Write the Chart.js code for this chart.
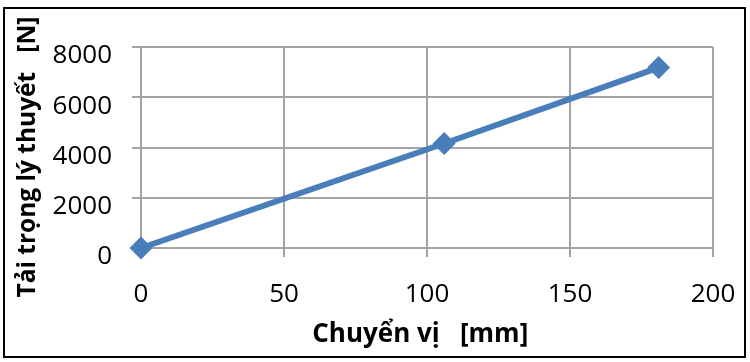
<!DOCTYPE html>
<html>
<head>
<meta charset="utf-8">
<script src="https://cdn.jsdelivr.net/npm/chart.js@4"></script>
<style>
    body { margin: 0; background: #fff; }
    #box { width: 750px; height: 362px; }
</style>
</head>
<body>
<div id="box"><canvas id="loadChart"></canvas></div>
<script>
// so lieu doc tu hinh
const displacement = [0, 106, 181];
const load = [0, 4160, 7180];
const xTicks = [0, 50, 100, 150, 200];
const yTicks = [0, 2000, 4000, 6000, 8000];

// khoang trang cuoi de dich tieu de giong hinh goc
const xTitle = "Chuyển vị   [mm]  ";
const yTitle = "Tải trọng lý thuyết   [N]   ";

const lineColor = "#4A7EBB";
const gridColor = "#a3a3a3";

const points = displacement.map((x, i) => ({ x, y: load[i] }));

// khung vien den quanh bieu do
const frame = {
    id: "frame",
    afterDraw(chart) {
        const c = chart.ctx;
        c.save();
        c.strokeStyle = "#000";
        c.lineWidth = 2;
        c.strokeRect(4, 8, 741, 349);
        c.restore();
    },
};

const ctx = document.getElementById("loadChart").getContext("2d");

new Chart(ctx, {
    type: "scatter",
    data: {
        datasets: [
            {
                data: points,
                showLine: true,
                clip: false,
                borderColor: lineColor,
                backgroundColor: lineColor,
                borderWidth: 6,
                pointStyle: "rectRot",
                pointRadius: 11.5,
                pointHoverRadius: 11.5,
                pointBorderWidth: 0,
            },
        ],
    },
    options: {
        responsive: true,
        maintainAspectRatio: false,
        animation: false,
        layout: {
            padding: { top: 47, right: 37, left: 0, bottom: 0 },
        },
        plugins: {
            legend: { display: false },
            tooltip: { enabled: false },
        },
        scales: {
            x: {
                type: "linear",
                min: 0,
                max: 200,
                afterBuildTicks: (axis) => {
                    axis.ticks = xTicks.map((v) => ({ value: v }));
                },
                afterFit: (axis) => {
                    axis.height = 114;
                    axis.paddingLeft = 0;
                    axis.paddingRight = 0;
                },
                grid: {
                    color: gridColor,
                    lineWidth: 2,
                    tickLength: 9,
                },
                border: { color: gridColor, width: 2 },
                ticks: {
                    color: "#000",
                    padding: 22,
                    maxRotation: 0,
                    font: { family: "Open Sans", size: 26 },
                    callback: (v) => String(v),
                },
                title: {
                    display: true,
                    text: xTitle,
                    color: "#000",
                    padding: { top: 0, bottom: 12 },
                    font: { family: "Open Sans", size: 26, weight: "bold" },
                },
            },
            y: {
                type: "linear",
                min: 0,
                max: 8000,
                afterBuildTicks: (axis) => {
                    axis.ticks = yTicks.map((v) => ({ value: v }));
                },
                afterFit: (axis) => {
                    axis.width = 141;
                    axis.paddingTop = 0;
                    axis.paddingBottom = 0;
                },
                grid: {
                    color: gridColor,
                    lineWidth: 2,
                    tickLength: 9,
                },
                border: { color: gridColor, width: 2 },
                ticks: {
                    color: "#000",
                    padding: 20,
                    labelOffset: 9,
                    font: { family: "Open Sans", size: 26 },
                    callback: (v) => String(v),
                },
                title: {
                    display: true,
                    text: yTitle,
                    color: "#000",
                    padding: { top: 13, bottom: 0 },
                    font: { family: "Open Sans", size: 24.5, weight: "bold" },
                },
            },
        },
    },
    plugins: [frame],
});
</script>
</body>
</html>
